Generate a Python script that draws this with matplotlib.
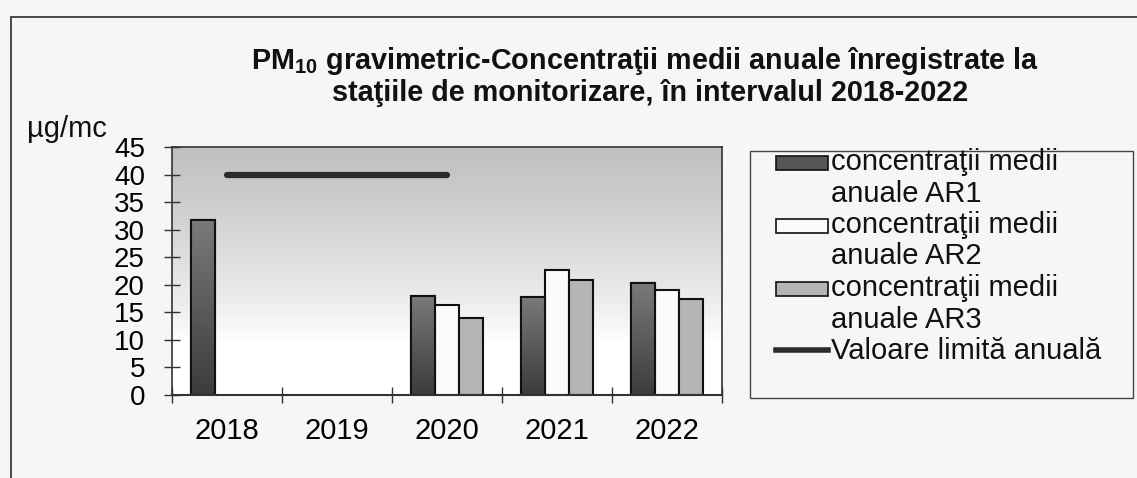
import numpy as np
import matplotlib
matplotlib.use("Agg")
import matplotlib.pyplot as plt
from matplotlib.patches import Rectangle, Patch
from matplotlib.lines import Line2D
from matplotlib.colors import LinearSegmentedColormap
from matplotlib import font_manager as fm
from matplotlib.legend_handler import HandlerPatch

plt.rcParams['font.family'] = ['Liberation Sans', 'DejaVu Sans']
plt.rcParams['mathtext.default'] = 'regular'

# ---- data ----
years = ["2018", "2019", "2020", "2021", "2022"]
ar1 = [31.8, np.nan, 18.0, 17.8, 20.3]
ar2 = [np.nan, np.nan, 16.4, 22.6, 19.1]
ar3 = [np.nan, np.nan, 13.9, 20.9, 17.5]
limit = [40, 40, 40, np.nan, np.nan]
series_names = ["concentraţii medii anuale AR1",
                "concentraţii medii anuale AR2",
                "concentraţii medii anuale AR3"]
limit_name = "Valoare limită anuală"
yticks = [0, 5, 10, 15, 20, 25, 30, 35, 40, 45]
title_l1 = "PM$_{10}$ gravimetric-Concentraţii medii anuale înregistrate la"
title_l2 = "staţiile de monitorizare, în intervalul 2018-2022"
unit = "µg/mc"


def find_font(names, bold):
    for nm in names:
        for f in fm.fontManager.ttflist:
            w = f.weight if isinstance(f.weight, int) else {'bold': 700, 'normal': 400, 'regular': 400}.get(f.weight, 400)
            if f.name == nm and f.style == 'normal' and ((w >= 600) == bold):
                return f.fname
    return None


bold_path = find_font(['Liberation Sans', 'Arimo', 'Arial', 'Roboto'], True)
if bold_path:
    title_prop = fm.FontProperties(fname=bold_path, size=20.7)
else:
    title_prop = fm.FontProperties(family='DejaVu Sans', weight='bold', size=19)

W, H = 1137, 478
bg = '#f6f6f6'
fig = plt.figure(figsize=(W / 100, H / 100), dpi=100, facecolor=bg)

# outer frame
fig.patches.append(Rectangle((11 / W, -0.05), 1.2, (H - 17) / H + 0.05,
                             transform=fig.transFigure, fill=False,
                             edgecolor='#3a3a3a', lw=1.3, zorder=0))

ax = fig.add_axes([172 / W, (H - 395) / H, (722 - 172) / W, (395 - 147) / H])
ax.set_facecolor('white')

x = np.arange(len(years))
bw = 0.22

# background gradient of plot area
grad = np.linspace(0, 1, 256)
grad = np.clip((grad - 0.22) / 0.78, 0, 1) ** 0.8
bg_cmap = LinearSegmentedColormap.from_list('bgc', ['#ffffff', '#bfbfbf'])
ax.imshow(grad[:, None], origin='lower', extent=[0, 1, 0, 1], transform=ax.transAxes,
          cmap=bg_cmap, aspect='auto', zorder=0, interpolation='bilinear')

b1 = ax.bar(x - bw, ar1, bw, color='#5c5c5c', edgecolor='#111111', lw=1.5, zorder=2)
b2 = ax.bar(x, ar2, bw, color='#fbfbfb', edgecolor='#111111', lw=1.5, zorder=2)
b3 = ax.bar(x + bw, ar3, bw, color='#b5b5b5', edgecolor='#111111', lw=1.5, zorder=2)

# vertical gradient for AR1 bars (dark bottom -> lighter top)
bar_cmap = LinearSegmentedColormap.from_list('barc', ['#3c3c3c', '#7a7a7a'])
for r in b1.patches:
    h = r.get_height()
    if not np.isfinite(h) or h <= 0:
        continue
    x0 = r.get_x()
    im = ax.imshow(np.linspace(0, 1, 128)[:, None], origin='lower',
                   extent=[x0, x0 + r.get_width(), 0, h], cmap=bar_cmap,
                   aspect='auto', zorder=2.1, interpolation='bilinear')
    im.set_clip_path(r)
    ax.add_patch(Rectangle((x0, 0), r.get_width(), h, fill=False, edgecolor='#111111',
                           lw=1.5, zorder=2.2))

ax.plot(x, limit, color='#2b2b2b', lw=4.5, solid_capstyle='round', zorder=3)

ax.set_xlim(-0.5, len(years) - 0.5)
ax.set_ylim(0, 45)
ax.set_yticks(yticks)
ax.set_yticklabels([str(v) for v in yticks], fontsize=20)
ax.set_xticks(np.arange(len(years) + 1) - 0.5)
ax.set_xticklabels([])
ax.set_xticks(x, minor=True)
ax.set_xticklabels(years, minor=True, fontsize=21)
ax.tick_params(axis='x', which='major', direction='inout', length=11.5, width=1, color='#333333')
ax.tick_params(axis='x', which='minor', length=0, pad=16)
ax.tick_params(axis='y', direction='inout', length=11, width=1, color='#333333', pad=14)
for s in ax.spines.values():
    s.set_color('#333333')
    s.set_linewidth(1.2)
ax.spines['bottom'].set_linewidth(1.5)

# titles and unit
fig.text(645 / W, 1 - 69 / H, title_l1, ha='center', va='baseline',
         fontproperties=title_prop, color='#111111')
fig.text(650 / W, 1 - 101 / H, title_l2, ha='center', va='baseline',
         fontproperties=title_prop, color='#111111')
fig.text(27 / W, 1 - 137 / H, unit, ha='left', va='baseline', fontsize=21, color='#111111')

# legend box
fig.patches.append(Rectangle((750 / W, (H - 398) / H), (1133 - 750) / W, (398 - 151) / H,
                             transform=fig.transFigure, facecolor=bg,
                             edgecolor='#444444', lw=1.0, zorder=1))


def low_box(legend, orig_handle, xdescent, ydescent, width, height, fontsize):
    return Rectangle((-xdescent, 0), width, 0.48 * fontsize)


blank = Patch(facecolor='none', edgecolor='none')
leg_colors = ['#555555', '#fbfbfb', '#b5b5b5']
handles, labels = [], []
for col, name in zip(leg_colors, series_names):
    parts = name.rsplit(' ', 2)
    handles += [Patch(facecolor=col, edgecolor='#111111', lw=1.2), blank]
    labels += [parts[0], parts[1] + ' ' + parts[2]]
handles.append(Line2D([], [], color='#2b2b2b', lw=4))
labels.append(limit_name)

leg = fig.legend(handles, labels, loc='upper left',
                 bbox_to_anchor=(776 / W, 1 - 148 / H), bbox_transform=fig.transFigure,
                 frameon=False, fontsize=21, labelspacing=0.12, handlelength=1.78,
                 handleheight=0.45, handletextpad=0.12, borderpad=0, borderaxespad=0,
                 handler_map={Patch: HandlerPatch(patch_func=low_box)})
for t in leg.get_texts():
    t.set_color('#111111')

fig.savefig('out.png', dpi=100, facecolor=bg)
